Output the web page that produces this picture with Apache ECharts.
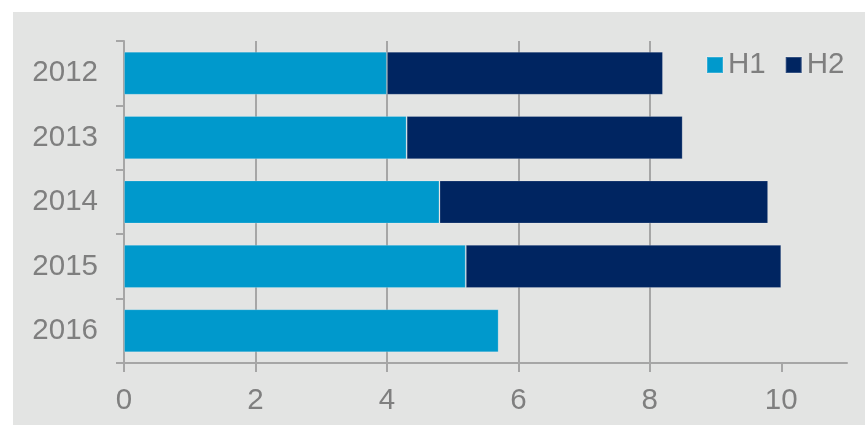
<!DOCTYPE html>
<html><head><meta charset="utf-8">
<script src="https://cdn.jsdelivr.net/npm/echarts@6/dist/echarts.min.js"></script>
<style>html,body{margin:0;padding:0;background:#fff;}#c{width:865px;height:425px;}</style>
</head><body><div id="c"></div>
<script>
var categories = ['2012', '2013', '2014', '2015', '2016'];
var seriesNames = ['H1', 'H2'];
var h1Values = [4.0, 4.3, 4.8, 5.2, 5.7];
var h2Values = [4.2, 4.2, 5.0, 4.8, null];
var xTickValues = [0, 2, 4, 6, 8, 10];

var txt = '#7f7f7f', lineC = '#a6a6a6', bg = '#e3e4e3';
var font = 'Liberation Sans, Arial, sans-serif';
var chart = echarts.init(document.getElementById('c'));
chart.setOption({
  animation: false,
  textStyle: { fontFamily: font },
  graphic: [{ type: 'rect', z: -10, silent: true, shape: { x: 13, y: 12, width: 852, height: 413 }, style: { fill: bg } }],
  grid: { left: 124, top: 41, right: 18, bottom: 62, containLabel: false },
  legend: {
    data: seriesNames, left: 701, top: 40, padding: [10, 5], backgroundColor: bg,
    itemWidth: 16, itemHeight: 16, itemGap: 19, icon: 'rect', z: 10,
    textStyle: { color: txt, fontSize: 29.5, fontFamily: font }
  },
  xAxis: {
    type: 'value', min: 0, max: 11, interval: 2,
    axisLine: { show: true, lineStyle: { color: lineC, width: 2 } },
    axisTick: { show: true, length: 9, customValues: xTickValues, lineStyle: { color: lineC, width: 2 } },
    axisLabel: { customValues: xTickValues, color: txt, fontSize: 29.5, margin: 23, fontFamily: font },
    splitLine: { show: true, showMaxLine: false, showMinLine: false, lineStyle: { color: lineC, width: 2 } }
  },
  yAxis: {
    type: 'category', data: categories, inverse: true,
    axisLine: { show: true, lineStyle: { color: lineC, width: 2 } },
    axisTick: { show: true, length: 8, lineStyle: { color: lineC, width: 2 } },
    axisLabel: { color: txt, fontSize: 29.5, margin: 26, fontFamily: font },
    splitLine: { show: false }
  },
  series: [
    { name: seriesNames[0], type: 'bar', stack: 'a', data: h1Values, barCategoryGap: '33%',
      itemStyle: { color: '#0099cc', borderColor: 'rgba(255,255,255,0.2)', borderWidth: 1 } },
    { name: seriesNames[1], type: 'bar', stack: 'a', data: h2Values, barCategoryGap: '33%',
      itemStyle: { color: '#002561', borderColor: 'rgba(255,255,255,0.2)', borderWidth: 1 } }
  ]
});
</script></body></html>
